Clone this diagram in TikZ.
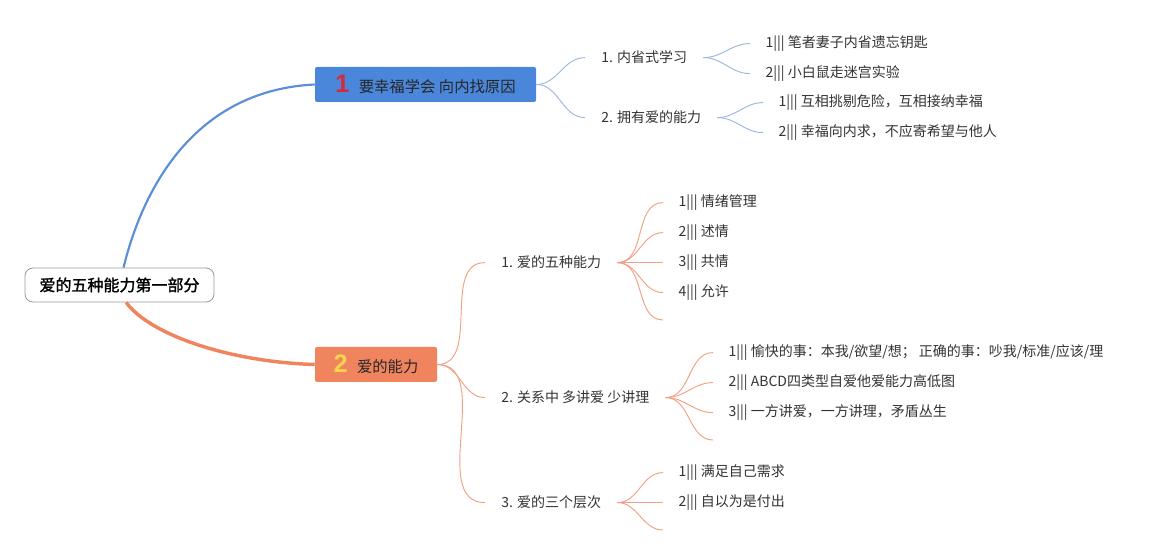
\documentclass[tikz,border=0pt]{standalone}
\usepackage{fontspec}
\setmainfont{Noto Sans CJK SC}[AutoFakeBold=1.5]
\newfontfamily\numfont{Liberation Sans}

\definecolor{rootgray}{HTML}{9A9A9A}
\definecolor{blueA}{HTML}{4A86D9}
\definecolor{blueline}{HTML}{5A8ED6}
\definecolor{bluethin}{HTML}{9CB6DE}
\definecolor{orangeB}{HTML}{F0845F}
\definecolor{orangethin}{HTML}{F2A085}
\definecolor{numred}{HTML}{D42A3C}
\definecolor{numyellow}{HTML}{F7D54A}
\definecolor{txtgray}{HTML}{333333}

\newcommand\bignum[2]{{\numfont\bfseries\fontsize{19}{19}\selectfont\textcolor{#1}{#2}}}

\tikzset{
  rootbox/.style={draw=rootgray, line width=0.6pt, rounded corners=6pt, fill=white,
    minimum width=141.75pt, minimum height=25.5pt, font=\fontsize{12}{14}\selectfont\bfseries},
  topic/.style={rounded corners=1.5pt, minimum height=26.25pt, inner xsep=0pt,
    font=\fontsize{11.5}{13}\selectfont, text=black!85},
  subtopic/.style={anchor=west, inner xsep=12pt, inner ysep=2pt, text=txtgray,
    yshift=-1.2pt, font=\fontsize{10.5}{12}\selectfont},
  leaf/.style={subtopic, inner xsep=11.5pt},
  link/.style={line width=0.7pt}
}

\begin{document}
\begin{tikzpicture}[x=0.75pt, y=-0.75pt]
  \useasboundingbox (0,0) rectangle (1152,555);

  % 1. Central topic and the two main topics
  \node[rootbox] (root) at (119.5,285) {爱的五种能力第一部分};
  \node[topic, fill=blueA, minimum width=165.75pt] (topicA) at (425.5,84.5)
    {\bignum{numred}{1}\hspace{7pt}要幸福学会 向内找原因};
  \node[topic, fill=orangeB, minimum width=91.5pt] (topicB) at (376,364.5)
    {\bignum{numyellow}{2}\hspace{7pt}爱的能力};

  \draw[blueline, line width=1.6pt] ([xshift=3pt]root.north) .. controls (145,180) and (200,90) .. (topicA.west);
  \draw[orangeB, line width=2.6pt] ([xshift=5pt]root.south) .. controls (150,335) and (230,362) .. (topicB.west);

  % 2. Subtopics of topic 1
  \node[subtopic] (subA1) at (585,56) {1. 内省式学习};
  \node[subtopic] (subA2) at (585,116) {2. 拥有爱的能力};
  \foreach \s in {subA1,subA2}
    \draw[link, bluethin] (topicA.east) to[out=0,in=180] (\s.west);

  % leaves of 1. and 2.
  \foreach \i/\y/\txt in {1/42/笔者妻子内省遗忘钥匙, 2/72/小白鼠走迷宫实验} {
    \node[leaf] (leafA1\i) at (750,\y) {\i||| \txt};
    \draw[link, bluethin] (subA1.east) to[out=0,in=180] (leafA1\i.west);
  }
  \foreach \i/\y/\txt in {1/101/互相挑剔危险，互相接纳幸福, 2/131/幸福向内求，不应寄希望与他人} {
    \node[leaf] (leafA2\i) at (763,\y) {\i||| \txt};
    \draw[link, bluethin] (subA2.east) to[out=0,in=180] (leafA2\i.west);
  }

  % 3. Subtopics of topic 2
  \node[subtopic] (subB1) at (485,261) {1. 爱的五种能力};
  \node[subtopic] (subB2) at (485,396) {2. 关系中 多讲爱 少讲理};
  \node[subtopic] (subB3) at (485,501) {3. 爱的三个层次};
  \foreach \s in {subB1,subB2,subB3}
    \draw[link, orangethin] (topicB.east) to[out=0,in=180] (\s.west);

  % leaves, each group ends with one empty branch
  \foreach \i/\y/\txt in {1/201/情绪管理, 2/231/述情, 3/261/共情, 4/291/允许} {
    \node[leaf] (leafB1\i) at (663,\y) {\i||| \txt};
    \draw[link, orangethin] (subB1.east) to[out=0,in=180] (leafB1\i.west);
  }
  \coordinate (endB1) at (663,320);
  \draw[link, orangethin] (subB1.east) to[out=0,in=180] (endB1);

  \foreach \i/\y/\txt in {1/351/{愉快的事：本我/欲望/想； 正确的事：吵我/标准/应该/理},
                          2/381/{ABCD四类型自爱他爱能力高低图},
                          3/411/{一方讲爱，一方讲理，矛盾丛生}} {
    \node[leaf] (leafB2\i) at (713,\y) {\i||| \txt};
    \draw[link, orangethin] (subB2.east) to[out=0,in=180] (leafB2\i.west);
  }
  \coordinate (endB2) at (713,440);
  \draw[link, orangethin] (subB2.east) to[out=0,in=180] (endB2);

  \foreach \i/\y/\txt in {1/471/满足自己需求, 2/501/自以为是付出} {
    \node[leaf] (leafB3\i) at (663,\y) {\i||| \txt};
    \draw[link, orangethin] (subB3.east) to[out=0,in=180] (leafB3\i.west);
  }
  \coordinate (endB3) at (663,530);
  \draw[link, orangethin] (subB3.east) to[out=0,in=180] (endB3);
\end{tikzpicture}
\end{document}
